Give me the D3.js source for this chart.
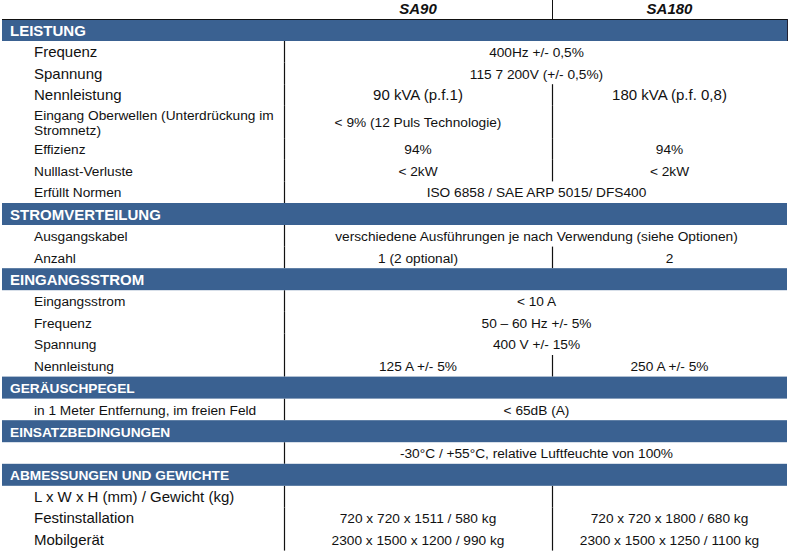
<!DOCTYPE html>
<html><head><meta charset="utf-8">
<script src="https://cdn.jsdelivr.net/npm/d3@7/dist/d3.min.js"></script>
<style>
html,body{margin:0;padding:0;background:#fff;}
svg{display:block;font-family:"Liberation Sans",Arial,sans-serif;}
</style></head>
<body><svg id="c" width="791" height="560"></svg>
<script>
// ---- data ----
const models = ["SA90", "SA180"];
const sections = ["LEISTUNG", "STROMVERTEILUNG", "EINGANGSSTROM", "GERÄUSCHPEGEL", "EINSATZBEDINGUNGEN", "ABMESSUNGEN UND GEWICHTE"];
const rowSection = [0,0,0,0,0,0,0, 1,1, 2,2,2,2, 3, 4, 5,5,5];
const rowLabels = [
  ["Frequenz"], ["Spannung"], ["Nennleistung"],
  ["Eingang Oberwellen (Unterdrückung im", "Stromnetz)"],
  ["Effizienz"], ["Nulllast-Verluste"], ["Erfüllt Normen"],
  ["Ausgangskabel"], ["Anzahl"],
  ["Eingangsstrom"], ["Frequenz"], ["Spannung"], ["Nennleistung"],
  ["in 1 Meter Entfernung, im freien Feld"],
  [""],
  ["L x W x H (mm) / Gewicht (kg)"], ["Festinstallation"], ["Mobilgerät"]
];
// value shared by both models (spans both columns), or null
const sharedValues = [
  "400Hz +/- 0,5%", "115 7 200V (+/- 0,5%)", null, null, null, null, "ISO 6858 / SAE ARP 5015/ DFS400",
  "verschiedene Ausführungen je nach Verwendung (siehe Optionen)", null,
  "< 10 A", "50 – 60 Hz +/- 5%", "400 V +/- 15%", null,
  "< 65dB (A)",
  "-30°C / +55°C, relative Luftfeuchte von 100%",
  null, null, null
];
const sa90Values = [
  null, null, "90 kVA (p.f.1)", "< 9% (12 Puls Technologie)", "94%", "< 2kW", null,
  null, "1 (2 optional)",
  null, null, null, "125 A +/- 5%",
  null, null,
  "", "720 x 720 x 1511 / 580 kg", "2300 x 1500 x 1200 / 990 kg"
];
const sa180Values = [
  null, null, "180 kVA (p.f. 0,8)", "", "94%", "< 2kW", null,
  null, "2",
  null, null, null, "250 A +/- 5%",
  null, null,
  "", "720 x 720 x 1800 / 680 kg", "2300 x 1500 x 1250 / 1100 kg"
];

// ---- style / layout ----
const W = 791;
const barColor = "#3a6191";
const bigLabelRows = new Set([0,1,2,15,16,17]);
const bigValueRows = new Set([2]);
const bigTitleSections = new Set([0,1,2]);
const rowH = 21.6, barH = 22, lineH = 15;
const top0 = 19;

// x scale: column edges
const x = d3.scaleOrdinal().domain(["left","label","div1","div2","right"]).range([2, 34, 284, 552, 787]);
const colCenter = d3.scaleOrdinal().domain(["SA90","SA180","both"])
  .range([(x("div1")+x("div2"))/2, (x("div2")+x("right"))/2, (x("div1")+x("right"))/2 + 1]);

// build vertical layout
const items = [];
let y = top0;
let prevSec = -1;
rowSection.forEach((s, i) => {
  if (s !== prevSec) { items.push({type:"bar", sec:s, y0:y, y1:y+barH}); y += barH; prevSec = s; }
  const n = rowLabels[i].length;
  const h = n > 1 ? rowH * 1.5 : rowH;
  items.push({type:"row", i, y0:y, y1:y+h});
  y += h;
});
const yScale = d3.scaleLinear().domain([0,1]).range([0,1]); // identity mapping of computed layout

const svg = d3.select("#c");
const g = svg.append("g");

// header
g.selectAll("text.model").data(models).join("text")
  .attr("x", d => colCenter(d)).attr("y", 14)
  .attr("text-anchor","middle").attr("font-weight","bold").attr("font-style","italic")
  .attr("font-size", 15).attr("fill","#111").text(d => d);
g.append("line").attr("x1", x("div2")+0.5).attr("x2", x("div2")+0.5).attr("y1", 0).attr("y2", top0)
  .attr("stroke","#111").attr("stroke-width",1);

const rows = items.filter(d => d.type === "row");
const bars = items.filter(d => d.type === "bar");

// vertical dividers
g.selectAll("line.d1").data(rows).join("line")
  .attr("x1", x("div1")+0.5).attr("x2", x("div1")+0.5)
  .attr("y1", d => yScale(d.y0)).attr("y2", d => yScale(d.y1))
  .attr("stroke","#111").attr("stroke-width",1.2);
g.selectAll("line.d2").data(rows.filter(d => sharedValues[d.i] === null)).join("line")
  .attr("x1", x("div2")+0.5).attr("x2", x("div2")+0.5)
  .attr("y1", d => yScale(d.y0)).attr("y2", d => yScale(d.y1))
  .attr("stroke","#111").attr("stroke-width",1.2);

// section bars
g.selectAll("rect.bar").data(bars).join("rect")
  .attr("x", x("left")).attr("width", x("right") - x("left"))
  .attr("y", d => yScale(d.y0)).attr("height", d => yScale(d.y1) - yScale(d.y0))
  .attr("fill", barColor);
g.selectAll("text.sec").data(bars).join("text")
  .attr("x", x("left") + 8).attr("y", d => yScale(d.y0) + 16.5)
  .attr("font-weight","bold").attr("fill","#fff")
  .attr("font-size", d => bigTitleSections.has(d.sec) ? 15 : 13.7)
  .text(d => sections[d.sec]);
// header bottom line / bar top border
g.append("line").attr("x1", x("left")).attr("x2", x("right")+1).attr("y1", top0+0.5).attr("y2", top0+0.5)
  .attr("stroke","#111").attr("stroke-width",1.2);
g.append("line").attr("x1", x("right")+0.5).attr("x2", x("right")+0.5).attr("y1", top0).attr("y2", top0+barH)
  .attr("stroke","#223").attr("stroke-width",1);

// labels
rows.forEach(r => {
  const lines = rowLabels[r.i];
  const fs = bigLabelRows.has(r.i) ? 15 : 13.7;
  const mid = (r.y0 + r.y1) / 2;
  const first = mid + 5.2 - (lines.length - 1) * lineH / 2;
  const t = g.append("text").attr("x", x("label")).attr("font-size", fs).attr("fill","#111");
  lines.forEach((l, k) => t.append("tspan").attr("x", x("label")).attr("y", yScale(first + k*lineH)).text(l));
});

// values
const valueItems = [];
rows.forEach(r => {
  const fs = bigValueRows.has(r.i) ? 15 : 13.7;
  const yb = (r.y0 + r.y1) / 2 + 5.2;
  if (sharedValues[r.i] !== null) valueItems.push({col:"both", text:sharedValues[r.i], y:yb, fs});
  else {
    valueItems.push({col:"SA90", text:sa90Values[r.i], y:yb, fs});
    valueItems.push({col:"SA180", text:sa180Values[r.i], y:yb, fs});
  }
});
g.selectAll("text.val").data(valueItems.filter(d => d.text)).join("text")
  .attr("x", d => colCenter(d.col)).attr("y", d => yScale(d.y))
  .attr("text-anchor","middle").attr("font-size", d => d.fs).attr("fill","#111")
  .text(d => d.text);
</script></body></html>
